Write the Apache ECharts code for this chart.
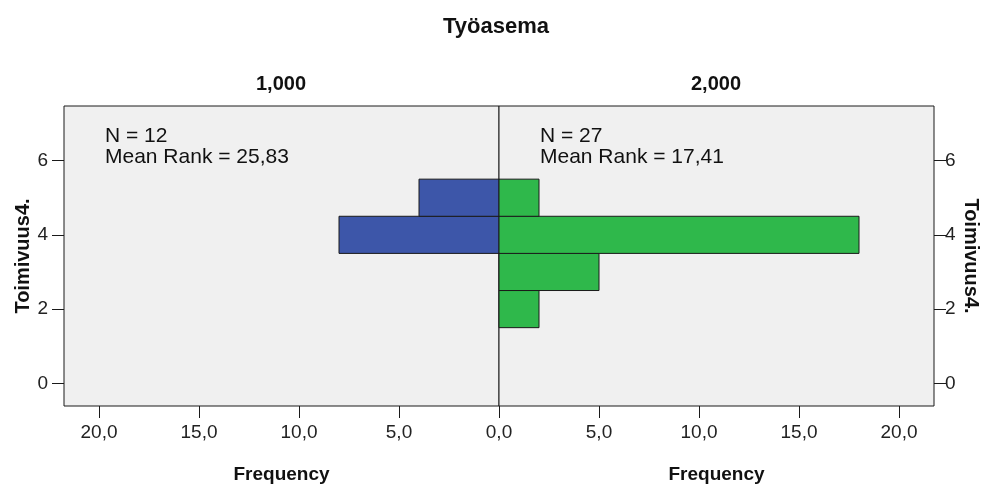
<!DOCTYPE html>
<html>
<head>
<meta charset="utf-8">
<script src="https://cdn.jsdelivr.net/npm/echarts@6/dist/echarts.min.js"></script>
<style>
html,body{margin:0;padding:0;background:#ffffff;}
#chart{width:982px;height:491px;}
</style>
</head>
<body>
<div id="chart"></div>
<script>
// Data
const toimivuusValues = [2, 3, 4, 5];          // Toimivuus4. values (bins)
const freqGroup1 = [0, 0, 8, 4];               // Työasema = 1,000
const freqGroup2 = [2, 5, 18, 2];              // Työasema = 2,000
const groupLabels = ['1,000', '2,000'];
const groupN = [12, 27];
const groupMeanRank = ['25,83', '17,41'];
const xTickValues = [0, 5, 10, 15, 20];
const yTickValues = [0, 2, 4, 6];
const binWidth = 1;

const fmt = v => v.toFixed(1).replace('.', ',');
const FONT = 'Arial, "Liberation Sans", sans-serif';
const LINE = '#1a1a1a';

function seriesData(freqs) {
  const out = [];
  freqs.forEach((f, i) => { if (f > 0) out.push([f, toimivuusValues[i]]); });
  return out;
}

function makeRender(color) {
  return function (params, api) {
    const f = api.value(0), c = api.value(1);
    const p0 = api.coord([0, c - binWidth / 2]);
    const p1 = api.coord([f, c + binWidth / 2]);
    return {
      type: 'rect',
      shape: {
        x: Math.min(p0[0], p1[0]), y: Math.min(p0[1], p1[1]),
        width: Math.abs(p1[0] - p0[0]), height: Math.abs(p1[1] - p0[1])
      },
      style: { fill: color, stroke: LINE, lineWidth: 1 }
    };
  };
}

const chart = echarts.init(document.getElementById('chart'), null, { renderer: 'canvas' });

const gridCommon = { top: 106, height: 300, width: 435, show: true, backgroundColor: '#f0f0f0', borderColor: LINE, borderWidth: 1 };

const xAxisCommon = {
  type: 'value', min: 0, max: 21.75,
  splitLine: { show: false },
  axisLine: { show: false, onZero: false },
  nameLocation: 'middle', nameGap: 59,
  name: 'Frequency',
  nameTextStyle: { fontFamily: FONT, fontSize: 19, fontWeight: 'bold', color: '#111' },
  axisTick: { show: true, inside: false, length: 12, lineStyle: { color: LINE }, customValues: xTickValues },
  axisLabel: { fontFamily: FONT, fontSize: 19, color: '#222', margin: 17, formatter: fmt }
};

const yAxisCommon = {
  type: 'value', min: -0.61, max: 7.47,
  splitLine: { show: false },
  axisLine: { show: false, onZero: false },
  name: 'Toimivuus4.', nameLocation: 'middle',
  nameTextStyle: { fontFamily: FONT, fontSize: 20, fontWeight: 'bold', color: '#111' },
  axisTick: { show: true, inside: false, length: 12, lineStyle: { color: LINE }, customValues: yTickValues },
  axisLabel: { fontFamily: FONT, fontSize: 19, color: '#222', customValues: yTickValues }
};

function txt(text, x, y, opts) {
  return {
    type: 'text', x: x, y: y, silent: true,
    style: Object.assign({
      text: text, fill: '#111',
      font: (opts.bold ? 'bold ' : '') + opts.size + 'px ' + FONT,
      textAlign: opts.align || 'center', textVerticalAlign: 'middle',
      align: opts.align || 'center', verticalAlign: 'middle'
    }, opts.extra || {})
  };
}

const option = {
  animation: false,
  backgroundColor: '#ffffff',
  grid: [
    Object.assign({ left: 64 }, gridCommon),
    Object.assign({ left: 499 }, gridCommon)
  ],
  xAxis: [
    Object.assign({}, xAxisCommon, {
      gridIndex: 0, inverse: true, position: 'bottom',
      axisLabel: Object.assign({}, xAxisCommon.axisLabel, { customValues: xTickValues.filter(v => v > 0) })
    }),
    Object.assign({}, xAxisCommon, {
      gridIndex: 1, position: 'bottom',
      axisLabel: Object.assign({}, xAxisCommon.axisLabel, { customValues: xTickValues })
    })
  ],
  yAxis: [
    Object.assign({}, yAxisCommon, {
      gridIndex: 0, position: 'left', nameGap: 30, nameRotate: 90,
      axisLabel: Object.assign({}, yAxisCommon.axisLabel, { margin: 16 })
    }),
    Object.assign({}, yAxisCommon, {
      gridIndex: 1, position: 'right', nameGap: 27, nameRotate: -90,
      axisLabel: Object.assign({}, yAxisCommon.axisLabel, { margin: 11 })
    })
  ],
  series: [
    { type: 'custom', xAxisIndex: 0, yAxisIndex: 0, renderItem: makeRender('#3d56a9'),
      encode: { x: 0, y: 1 }, data: seriesData(freqGroup1) },
    { type: 'custom', xAxisIndex: 1, yAxisIndex: 1, renderItem: makeRender('#2fb84b'),
      encode: { x: 0, y: 1 }, data: seriesData(freqGroup2) }
  ],
  graphic: [
    txt('Työasema', 496, 27, { size: 22, bold: true }),
    txt(groupLabels[0], 281, 84, { size: 20, bold: true }),
    txt(groupLabels[1], 716, 84, { size: 20, bold: true }),
    txt('N = ' + groupN[0], 105, 136.5, { size: 21, align: 'left' }),
    txt('Mean Rank = ' + groupMeanRank[0], 105, 157.5, { size: 21, align: 'left' }),
    txt('N = ' + groupN[1], 540, 136.5, { size: 21, align: 'left' }),
    txt('Mean Rank = ' + groupMeanRank[1], 540, 157.5, { size: 21, align: 'left' })
  ]
};

chart.setOption(option);
</script>
</body>
</html>
